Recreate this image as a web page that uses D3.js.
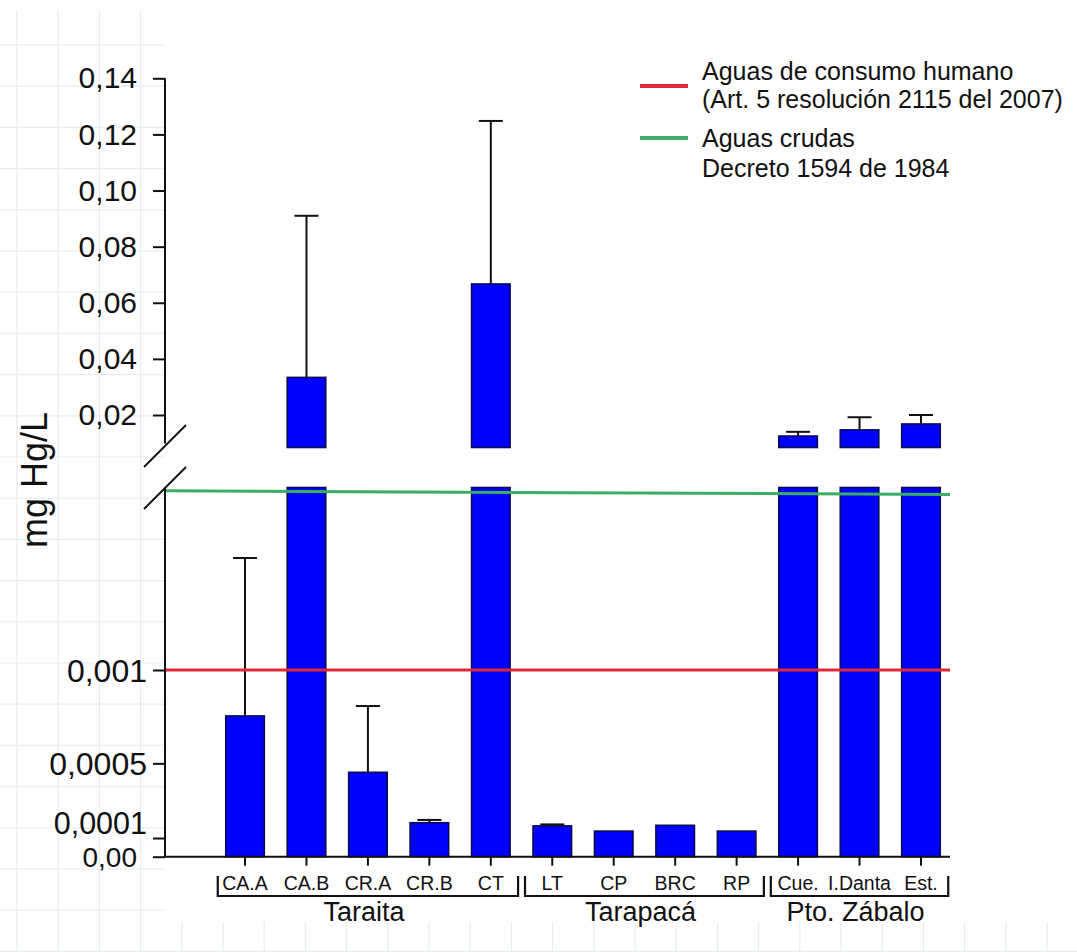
<!DOCTYPE html>
<html>
<head>
<meta charset="utf-8">
<script src="https://cdn.jsdelivr.net/npm/d3@7"></script>
<style>
  html, body { margin: 0; padding: 0; background: #fff; }
  svg { display: block; }
  text { font-family: "Liberation Sans", Arial, Helvetica, sans-serif; fill: #111; }
</style>
</head>
<body>
<svg id="chart" width="1077" height="952"></svg>
<script>
// ---------------- data ----------------
const categories = ["CA.A", "CA.B", "CR.A", "CR.B", "CT", "LT", "CP", "BRC", "RP", "Cue.", "I.Danta", "Est."];
const means      = [0.000754, 0.0334, 0.000452, 0.000182, 0.0667, 0.000165, 0.000137, 0.000168, 0.000137, 0.0125, 0.0147, 0.0168];
const errTops    = [0.0016, 0.091, 0.000807, 0.000197, 0.1248, 0.000173, 0.000137, 0.000168, 0.000137, 0.0140, 0.0192, 0.0200];
const groupNames = ["Taraita", "Tarapacá", "Pto. Zábalo"];
const groupFirst = ["CA.A", "LT", "Cue."];
const groupLast  = ["CT", "RP", "Est."];
const upperTicks = [0.02, 0.04, 0.06, 0.08, 0.10, 0.12, 0.14];
const upperTickLabels = ["0,02", "0,04", "0,06", "0,08", "0,10", "0,12", "0,14"];
const lowerTicks = [0, 0.0001, 0.0005, 0.001];
const lowerTickLabels = ["0,00", "0,0001", "0,0005", "0,001"];
const redLimit = 0.001;               // Aguas de consumo humano
const greenLimit = [0.00196, 0.00194]; // Aguas crudas (as drawn, start / end)
const legendItems = [
  ["Aguas de consumo humano", "(Art. 5 resolución 2115 del 2007)"],
  ["Aguas crudas", "Decreto 1594 de 1984"]
];
const legendColors = ["#e0283a", "#3aae62"];
const yTitle = "mg Hg/L";

// ---------------- layout ----------------
const svg = d3.select("#chart");
const W = 1077, H = 952;
const axisX = 165;
const baseY = 856.7;
const loTopY = 487.5;
const hiBottomY = 443.5;
const lineEndX = 950;

// background graph-paper grid
const grid = svg.append("g");
d3.range(17, W, 41.2).forEach(x => grid.append("line")
  .attr("x1", x).attr("x2", x).attr("y1", 10).attr("y2", H)
  .attr("stroke", "#e6edf0").attr("stroke-width", 1.2));
d3.range(45, H, 41.2).forEach(y => grid.append("line")
  .attr("x1", 0).attr("x2", W).attr("y1", y).attr("y2", y)
  .attr("stroke", "#e6edf0").attr("stroke-width", 1.2));
svg.append("rect").attr("x", 165).attr("y", 0).attr("width", W - 165).attr("height", 922).attr("fill", "#fff");

// scales
const x = d3.scaleBand().domain(categories)
  .range([214.3, 951.7]).paddingInner(0.373).paddingOuter(0.1865);
const yLo = d3.scaleLinear().domain([0, 0.001]).range([baseY, 670]);
const yHi = d3.scaleLinear().domain([0.02, 0.14]).range([415, 78.3]);
const loMax = yLo.invert(loTopY);
const hiMin = yHi.invert(447.5);

const data = categories.map((c, i) => ({ c, v: means[i], e: errTops[i] }));

// bars - lower segment
const barFill = "#0000ff", barStroke = "#0a0a55";
svg.append("g").selectAll("rect").data(data).join("rect")
  .attr("x", d => x(d.c)).attr("width", x.bandwidth())
  .attr("y", d => yLo(Math.min(d.v, loMax)))
  .attr("height", d => yLo(0) - yLo(Math.min(d.v, loMax)))
  .attr("fill", barFill).attr("stroke", barStroke).attr("stroke-width", 1.6);

// bars - upper segment
const up = data.filter(d => d.v > hiMin);
svg.append("g").selectAll("rect").data(up).join("rect")
  .attr("x", d => x(d.c)).attr("width", x.bandwidth())
  .attr("y", d => yHi(d.v))
  .attr("height", d => yHi(hiMin) - yHi(d.v))
  .attr("fill", barFill).attr("stroke", barStroke).attr("stroke-width", 1.6);

// error bars
const eb = svg.append("g").attr("stroke", "#111").attr("stroke-width", 2);
data.filter(d => d.e > d.v).forEach(d => {
  const s = d.v > hiMin ? yHi : yLo;
  const cx = x(d.c) + x.bandwidth() / 2;
  eb.append("line").attr("x1", cx).attr("x2", cx).attr("y1", s(d.v)).attr("y2", s(d.e));
  eb.append("line").attr("x1", cx - 12).attr("x2", cx + 12).attr("y1", s(d.e)).attr("y2", s(d.e));
});

// limit lines (drawn over bars)
svg.append("line").attr("x1", axisX).attr("x2", lineEndX)
  .attr("y1", yLo(redLimit)).attr("y2", yLo(redLimit))
  .attr("stroke", legendColors[0]).attr("stroke-width", 3);
svg.append("line").attr("x1", axisX).attr("x2", lineEndX)
  .attr("y1", yLo(greenLimit[0])).attr("y2", yLo(greenLimit[1]))
  .attr("stroke", legendColors[1]).attr("stroke-width", 3);

// y axes
const hiAxis = svg.append("g").attr("transform", `translate(${axisX},0)`)
  .call(d3.axisLeft(yHi).tickValues(upperTicks).tickSize(12).tickPadding(16)
    .tickFormat((d, i) => upperTickLabels[i]));
hiAxis.select(".domain").remove();
hiAxis.selectAll(".tick line").attr("stroke", "#111").attr("stroke-width", 2);
hiAxis.selectAll(".tick text").attr("font-size", 30).attr("font-family", null).style("fill", "#111");

const loAxis = svg.append("g").attr("transform", `translate(${axisX},0)`)
  .call(d3.axisLeft(yLo).tickValues(lowerTicks).tickSize(12).tickPadding(6)
    .tickFormat((d, i) => lowerTickLabels[i]));
loAxis.select(".domain").remove();
loAxis.selectAll(".tick line").attr("stroke", "#111").attr("stroke-width", 2);
loAxis.selectAll(".tick text").attr("font-family", null).style("fill", "#111")
  .attr("font-size", d => d === 0 ? 28 : (d === 0.0001 ? 30.5 : 32))
  .attr("x", d => d === 0 ? -28 : -18)
  .attr("y", d => d === 0.0001 ? -14 : 1);

svg.append("line").attr("x1", axisX).attr("x2", axisX).attr("y1", yHi(0.14)).attr("y2", hiBottomY)
  .attr("stroke", "#111").attr("stroke-width", 2);
svg.append("line").attr("x1", axisX).attr("x2", axisX).attr("y1", loTopY).attr("y2", baseY)
  .attr("stroke", "#111").attr("stroke-width", 2);

// break marks
const br = svg.append("g").attr("stroke", "#111").attr("stroke-width", 2);
br.append("line").attr("x1", 144).attr("y1", 467).attr("x2", 186).attr("y2", 425);
br.append("line").attr("x1", 144).attr("y1", 509).attr("x2", 186).attr("y2", 467);

// x axis
const xAxis = svg.append("g").attr("transform", `translate(0,${baseY})`)
  .call(d3.axisBottom(x).tickSize(9).tickPadding(10));
xAxis.select(".domain").remove();
xAxis.selectAll(".tick line").attr("stroke", "#111").attr("stroke-width", 2);
xAxis.selectAll(".tick text").attr("font-size", 19.5).attr("font-family", null).style("fill", "#111");
svg.append("line").attr("x1", axisX - 1).attr("x2", lineEndX).attr("y1", baseY).attr("y2", baseY)
  .attr("stroke", "#111").attr("stroke-width", 2);

// group brackets
const gb = svg.append("g");
groupNames.forEach((g, i) => {
  const x0 = x(groupFirst[i]) - 0.13 * x.step();
  const x1 = x(groupLast[i]) + x.bandwidth() + 0.13 * x.step();
  gb.append("path").attr("d", `M${x0},876V896H${x1}V876`)
    .attr("fill", "none").attr("stroke", "#111").attr("stroke-width", 2.2);
  gb.append("text").attr("x", (x0 + x1) / 2 - 4).attr("y", 921)
    .attr("text-anchor", "middle").attr("font-size", 27).text(g);
});

// y title
svg.append("text").attr("transform", "translate(47,480) rotate(-90)")
  .attr("text-anchor", "middle").attr("font-size", 36).text(yTitle);

// legend
const lg = svg.append("g");
const legendLineY = [86, 138];
const legendBase = [[80, 108], [147, 176.5]];
legendItems.forEach((lines, i) => {
  lg.append("line").attr("x1", 640).attr("x2", 688)
    .attr("y1", legendLineY[i]).attr("y2", legendLineY[i])
    .attr("stroke", legendColors[i]).attr("stroke-width", 4);
  lines.forEach((t, j) => lg.append("text").attr("x", 702).attr("y", legendBase[i][j])
    .attr("font-size", 25).text(t));
});
</script>
</body>
</html>
